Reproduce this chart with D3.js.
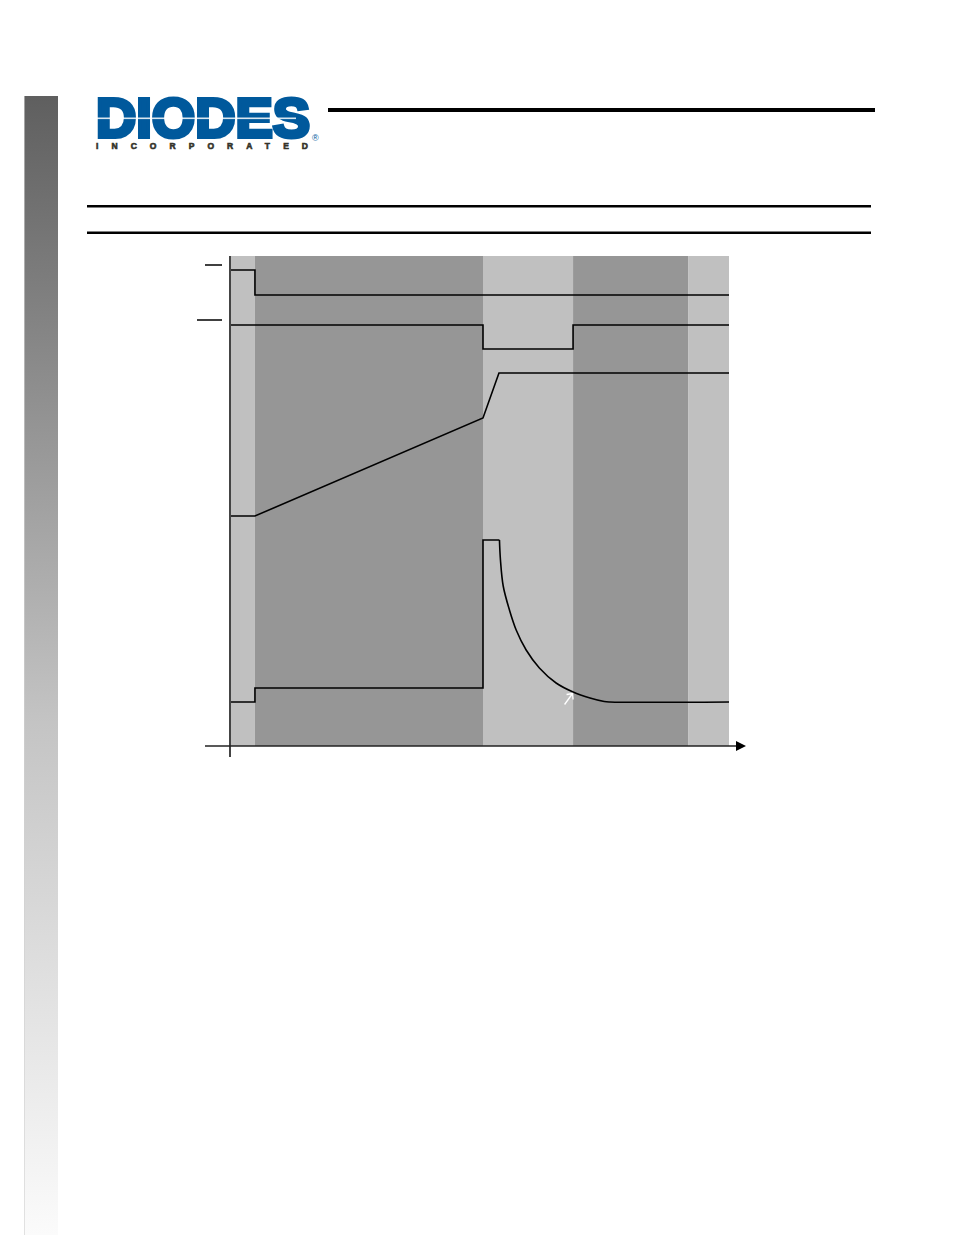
<!DOCTYPE html>
<html>
<head>
<meta charset="utf-8">
<script src="https://cdn.jsdelivr.net/npm/d3@7"></script>
<style>
html,body{margin:0;padding:0;background:#fff;}
svg{display:block;}
</style>
</head>
<body>
<script>
// ---- data (time units 0..20, level units 0..49) ----
const phaseBounds = [0, 1.0, 10.14, 13.75, 18.36, 20];
const phaseShade = ["light", "dark", "light", "dark", "light"];
const tickLevels = [48.1, 42.6];

const sigTop = [[0, 47.6], [1.0, 47.6], [1.0, 45.1], [20, 45.1]];
const sigSecond = [[0, 42.1], [10.14, 42.1], [10.14, 39.7], [13.75, 39.7], [13.75, 42.1], [20, 42.1]];
const sigRamp = [[0, 23.0], [1.0, 23.0], [10.14, 32.8], [10.78, 37.3], [20, 37.3]];
const sigStep = [[0, 4.4], [1.0, 4.4], [1.0, 5.8], [10.14, 5.8], [10.14, 20.6], [10.8, 20.6]];
const sigDecay = [[10.8, 20.6], [10.84, 18.6], [10.95, 16.0], [11.2, 13.6], [11.47, 11.6], [11.87, 9.6],
                  [12.4, 7.8], [13.07, 6.3], [13.75, 5.4], [14.43, 4.8], [15.0, 4.45], [15.23, 4.4], [20, 4.4]];

// ---- layout ----
const W = 954, H = 1235;
const svg = d3.select("body").append("svg").attr("width", W).attr("height", H);

// left gradient bar
const defs = svg.append("defs");
const grad = defs.append("linearGradient").attr("id", "sidebar").attr("x1", 0).attr("y1", 0).attr("x2", 0).attr("y2", 1);
grad.append("stop").attr("offset", "0%").attr("stop-color", "#5f5f5f");
grad.append("stop").attr("offset", "55%").attr("stop-color", "#c4c4c4");
grad.append("stop").attr("offset", "100%").attr("stop-color", "#fbfbfb");
svg.append("rect").attr("x", 24).attr("y", 96).attr("width", 34).attr("height", H - 96).attr("fill", "url(#sidebar)");
svg.append("rect").attr("x", 24).attr("y", 96).attr("width", 1).attr("height", H - 96).attr("fill", "#d0d0d0").attr("opacity", 0.6);

// logo
const logo = svg.append("g");
logo.append("text").attr("x", 96).attr("y", 137)
  .attr("font-family", "Liberation Sans, Arial, sans-serif").attr("font-weight", 900)
  .attr("font-size", 56).attr("fill", "#00599c")
  .attr("textLength", 214).attr("lengthAdjust", "spacingAndGlyphs")
  .style("stroke", "#00599c").style("stroke-width", 4).style("stroke-linejoin", "miter")
  .text("DIODES");
logo.append("rect").attr("x", 96).attr("y", 117.5).attr("width", 200).attr("height", 1.6).attr("fill", "#fff").attr("opacity", 0.85);
logo.append("text").attr("x", 96).attr("y", 149)
  .attr("font-family", "Liberation Sans, Arial, sans-serif").attr("font-weight", 700)
  .attr("font-size", 8.5).attr("fill", "#34332a")
  .style("stroke", "#34332a").style("stroke-width", 0.6)
  .attr("textLength", 212).attr("lengthAdjust", "spacing")
  .text("INCORPORATED");
logo.append("text").attr("x", 312).attr("y", 141)
  .attr("font-family", "Liberation Sans, Arial, sans-serif").attr("font-size", 9).attr("fill", "#00599c")
  .text("®");

// header rules
svg.append("rect").attr("x", 328).attr("y", 108).attr("width", 547).attr("height", 4).attr("fill", "#000");
svg.append("rect").attr("x", 87).attr("y", 205).attr("width", 784).attr("height", 2.5).attr("fill", "#000");
svg.append("rect").attr("x", 87).attr("y", 231.5).attr("width", 784).attr("height", 2.5).attr("fill", "#000");

// ---- chart ----
const x = d3.scaleLinear().domain([0, 20]).range([230, 729]);
const y = d3.scaleLinear().domain([0, 49]).range([746, 256]);

const g = svg.append("g");
const shade = {light: "#c0c0c0", dark: "#969696"};
g.selectAll("rect.phase").data(phaseShade).join("rect").attr("class", "phase")
  .attr("x", (d, i) => x(phaseBounds[i]))
  .attr("width", (d, i) => x(phaseBounds[i + 1]) - x(phaseBounds[i]))
  .attr("y", y(49)).attr("height", y(0) - y(49))
  .attr("fill", d => shade[d]);

// level tick marks on the left
const tickX0 = [205, 197];
g.selectAll("line.lvl").data(tickLevels).join("line").attr("class", "lvl")
  .attr("x1", (d, i) => tickX0[i]).attr("x2", 222)
  .attr("y1", d => y(d)).attr("y2", d => y(d))
  .attr("stroke", "#000").attr("stroke-width", 1.5);

// signals
const line = d3.line().x(d => x(d[0])).y(d => y(d[1]));
[sigTop, sigSecond, sigRamp, sigStep].forEach(s => {
  g.append("path").attr("d", line(s)).attr("fill", "none").attr("stroke", "#000").attr("stroke-width", 1.6);
});
const curveLine = d3.line().x(d => x(d[0])).y(d => y(d[1])).curve(d3.curveCatmullRom.alpha(0.5));
g.append("path").attr("d", curveLine(sigDecay)).attr("fill", "none").attr("stroke", "#000").attr("stroke-width", 1.6);

// white pointer arrow
const ax = x(13.75) - 0.5, ay = y(5.4) + 1.5;
g.append("path").attr("d", `M${ax - 8},${ay + 11} L${ax},${ay} M${ax - 6},${ay + 1} L${ax},${ay} L${ax + 0.5},${ay + 6}`)
  .attr("fill", "none").attr("stroke", "#fff").attr("stroke-width", 1.3);

// axes
g.append("line").attr("x1", x(0)).attr("x2", x(0)).attr("y1", y(49)).attr("y2", y(0) + 11)
  .attr("stroke", "#444").attr("stroke-width", 2);
g.append("line").attr("x1", 205).attr("x2", 738).attr("y1", y(0)).attr("y2", y(0))
  .attr("stroke", "#222").attr("stroke-width", 1.5);
g.append("path").attr("d", `M736,${y(0) - 5} L746,${y(0)} L736,${y(0) + 5} Z`).attr("fill", "#000");
</script>
</body>
</html>
